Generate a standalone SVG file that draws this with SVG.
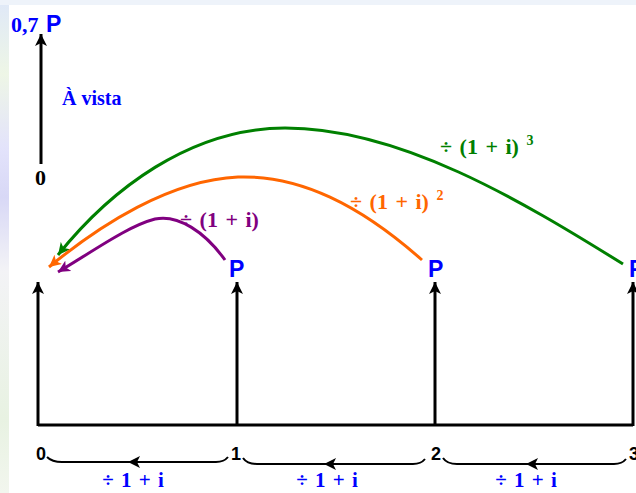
<svg xmlns="http://www.w3.org/2000/svg" width="636" height="493" viewBox="0 0 636 493">
<defs>
<linearGradient id="edge" x1="0" y1="0" x2="0" y2="1">
<stop offset="0" stop-color="#dfe8f8"/>
<stop offset="0.15" stop-color="#eef6e6"/>
<stop offset="0.3" stop-color="#e3e3fb"/>
<stop offset="0.4" stop-color="#d8d8f6"/>
<stop offset="0.55" stop-color="#f3f3f6"/>
<stop offset="0.85" stop-color="#e8f2e2"/>
<stop offset="1" stop-color="#f2f6ee"/>
</linearGradient>
<marker id="ak" markerUnits="userSpaceOnUse" markerWidth="14" markerHeight="12" refX="12" refY="6" orient="auto"><path d="M0,0 L12,6 L0,12 L3,6 Z" fill="#000"/></marker>
<marker id="ag" markerUnits="userSpaceOnUse" markerWidth="14" markerHeight="12" refX="12" refY="6" orient="auto"><path d="M0,0 L12,6 L0,12 L3,6 Z" fill="#008000"/></marker>
<marker id="ao" markerUnits="userSpaceOnUse" markerWidth="14" markerHeight="12" refX="12" refY="6" orient="auto"><path d="M0,0 L12,6 L0,12 L3,6 Z" fill="#ff6600"/></marker>
<marker id="ap" markerUnits="userSpaceOnUse" markerWidth="14" markerHeight="12" refX="12" refY="6" orient="auto"><path d="M0,0 L12,6 L0,12 L3,6 Z" fill="#800080"/></marker>
</defs>
<style>
.ser{font-family:"Liberation Serif","Times New Roman",serif;font-weight:bold}
.san{font-family:"Liberation Sans",Arial,sans-serif;font-weight:bold}
.blue{fill:#0000ff}
.ax{stroke:#000;stroke-width:3;fill:none}
.br{stroke:#000;stroke-width:2;fill:none}
.cv{stroke-width:3;fill:none}
.lb{font-size:22px;word-spacing:2px}
</style>
<rect width="636" height="493" fill="#fff"/>
<rect x="0" y="0" width="9" height="493" fill="url(#edge)"/>
<rect x="0" y="0" width="636" height="5" fill="#eef3fa"/>

<g id="top-axis">
<line x1="41" y1="164" x2="41" y2="34" class="ax" marker-end="url(#ak)"/>
<text x="11" y="32" class="ser blue" font-size="22">0,7</text>
<text x="46" y="32" class="san blue" font-size="23">P</text>
<text x="62" y="105" class="ser blue" font-size="20">À vista</text>
<text x="35" y="185" class="ser" font-size="22" fill="#000">0</text>
</g>

<g id="timeline">
<line x1="38" y1="425" x2="633" y2="425" class="ax"/>
</g>

<g id="t0">
<line x1="38" y1="426" x2="38" y2="282" class="ax" marker-end="url(#ak)"/>
<text x="36" y="460" class="san" font-size="18">0</text>
</g>
<g id="t1">
<line x1="237" y1="426" x2="237" y2="282" class="ax" marker-end="url(#ak)"/>
<text x="229" y="277" class="san blue" font-size="23">P</text>
<text x="231" y="460" class="san" font-size="18">1</text>
</g>
<g id="t2">
<line x1="435" y1="426" x2="435" y2="282" class="ax" marker-end="url(#ak)"/>
<text x="428" y="277" class="san blue" font-size="23">P</text>
<text x="431" y="460" class="san" font-size="18">2</text>
</g>
<g id="t3">
<line x1="633" y1="426" x2="633" y2="282" class="ax" marker-end="url(#ak)"/>
<text x="629" y="277" class="san blue" font-size="23">P</text>
<text x="629" y="460" class="san" font-size="18">3</text>
</g>

<g id="connectors">
<path d="M623,264 C520,200 400,128 285,128 C190,128 110,190 58,255" class="cv" stroke="#008000" marker-end="url(#ag)"/>
<path d="M422,260 C360,205 300,175 238,177 C170,180 100,225 49,267" class="cv" stroke="#ff6600" marker-end="url(#ao)"/>
<path d="M225,260 C205,232 178,214 155,219 C128,226 95,250 58,272" class="cv" stroke="#800080" marker-end="url(#ap)"/>

<path d="M47,457 Q52,462 62,462 L216,462 Q224,462 228,457" class="br"/>
<line x1="150" y1="462" x2="128" y2="462" class="br" marker-end="url(#ak)"/>
<path d="M243,458 Q247,464 257,464 L413,464 Q421,464 425,459" class="br"/>
<line x1="346" y1="464" x2="324" y2="464" class="br" marker-end="url(#ak)"/>
<path d="M443,458 Q447,464 457,464 L614,464 Q622,464 626,459" class="br"/>
<line x1="548" y1="464" x2="526" y2="464" class="br" marker-end="url(#ak)"/>
</g>

<g id="labels">
<text x="180" y="227" class="ser lb" fill="#800080">÷ (1 + i)</text>
<text x="350" y="209" class="ser lb" fill="#ff6600">÷ (1 + i) <tspan dy="-9" font-size="14">2</tspan></text>
<text x="440" y="154" class="ser lb" fill="#008000">÷ (1 + i) <tspan dy="-9" font-size="14">3</tspan></text>
<text x="133" y="487" class="ser blue" font-size="21" text-anchor="middle" word-spacing="2">÷ 1 + i</text>
<text x="327" y="487" class="ser blue" font-size="21" text-anchor="middle" word-spacing="2">÷ 1 + i</text>
<text x="526" y="487" class="ser blue" font-size="21" text-anchor="middle" word-spacing="2">÷ 1 + i</text>
</g>
</svg>
